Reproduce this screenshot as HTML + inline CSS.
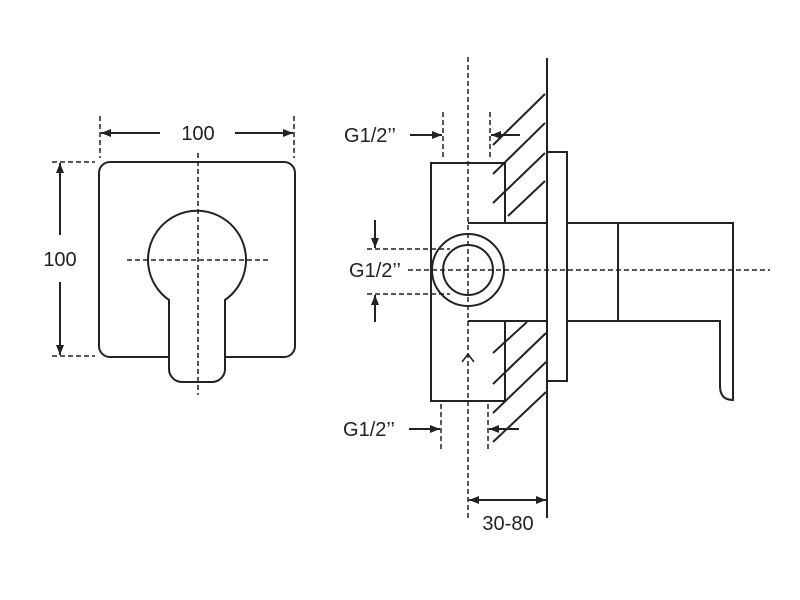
<!DOCTYPE html>
<html><head><style>body{margin:0;background:#fff}svg{display:block}</style></head><body>
<svg width="800" height="600" viewBox="0 0 800 600" xmlns="http://www.w3.org/2000/svg">
<defs>
<marker id="a" viewBox="0 0 10 10" refX="10" refY="5" markerWidth="10" markerHeight="10" markerUnits="userSpaceOnUse" orient="auto"><path d="M0,1 L10,5 L0,9 Z" fill="#222"/></marker>
</defs>
<g fill="none" stroke="#222" stroke-width="2">
<!-- left view -->
<rect x="99" y="162" width="196" height="195" rx="11"/>
<path d="M169,357 V300 A49,49 0 1 1 225,300 V369 A13,13 0 0 1 212,382 H182 A13,13 0 0 1 169,369 Z" fill="#fff"/>
</g>
<g fill="none" stroke="#222" stroke-width="1.5" stroke-dasharray="5,3">
<line x1="198" y1="153" x2="198" y2="395"/>
<line x1="127" y1="260" x2="268" y2="260"/>
<line x1="100" y1="116" x2="100" y2="158"/>
<line x1="294" y1="116" x2="294" y2="158"/>
<line x1="52" y1="162" x2="95" y2="162"/>
<line x1="52" y1="356" x2="95" y2="356"/>
<!-- right view dashed -->
<line x1="468" y1="57" x2="468" y2="518"/>
<line x1="408" y1="270" x2="770" y2="270"/>
<line x1="443" y1="112" x2="443" y2="158"/>
<line x1="490" y1="112" x2="490" y2="158"/>
<line x1="441" y1="404" x2="441" y2="450"/>
<line x1="488" y1="404" x2="488" y2="450"/>
<line x1="367" y1="249" x2="450" y2="249"/>
<line x1="367" y1="294" x2="450" y2="294"/>
</g>
<g stroke="#222" stroke-width="2" fill="none">
<line x1="160" y1="133" x2="101" y2="133" marker-end="url(#a)"/>
<line x1="235" y1="133" x2="293" y2="133" marker-end="url(#a)"/>
<line x1="60" y1="235" x2="60" y2="163" marker-end="url(#a)"/>
<line x1="60" y1="282" x2="60" y2="355" marker-end="url(#a)"/>
<!-- right dims -->
<line x1="410" y1="135" x2="442" y2="135" marker-end="url(#a)"/>
<line x1="520" y1="135" x2="491" y2="135" marker-end="url(#a)"/>
<line x1="409" y1="429" x2="440" y2="429" marker-end="url(#a)"/>
<line x1="519" y1="429" x2="489" y2="429" marker-end="url(#a)"/>
<line x1="375" y1="220" x2="375" y2="248" marker-end="url(#a)"/>
<line x1="375" y1="322" x2="375" y2="295" marker-end="url(#a)"/>
<line x1="490" y1="500" x2="469" y2="500" marker-end="url(#a)"/>
<line x1="490" y1="500" x2="546" y2="500" marker-end="url(#a)"/>
<path d="M462,362 L468,354 L474,362" stroke-width="1.5"/>
<!-- body -->
<line x1="547" y1="58" x2="547" y2="518"/>
<path d="M505,223 V163 H431 V401 H505 V321"/>
<line x1="468" y1="223" x2="547" y2="223"/>
<line x1="468" y1="321" x2="547" y2="321"/>
<circle cx="468" cy="270" r="36"/>
<circle cx="468" cy="270" r="25"/>
<rect x="547" y="152" width="20" height="229"/>
<path d="M567,321 H720 V386 Q720 400 733 400 V223 H567"/>
<line x1="618" y1="223" x2="618" y2="321"/>
<!-- hatch -->
<line x1="493" y1="145" x2="545" y2="94"/>
<line x1="493" y1="174" x2="545" y2="123"/>
<line x1="493" y1="203" x2="545" y2="153"/>
<line x1="508" y1="216" x2="545" y2="181"/>
<line x1="493" y1="353" x2="527" y2="322"/>
<line x1="493" y1="384" x2="546" y2="333"/>
<line x1="493" y1="413" x2="546" y2="362"/>
<line x1="493" y1="442" x2="546" y2="392"/>
</g>
<g font-family="Liberation Sans, sans-serif" font-size="20" fill="#222">
<text x="198" y="140" text-anchor="middle">100</text>
<text x="60" y="266" text-anchor="middle">100</text>
<text x="370" y="142" text-anchor="middle">G1/2’’</text>
<text x="375" y="277" text-anchor="middle">G1/2’’</text>
<text x="369" y="436" text-anchor="middle">G1/2’’</text>
<text x="508" y="530" text-anchor="middle">30-80</text>
</g>
</svg>
</body></html>
